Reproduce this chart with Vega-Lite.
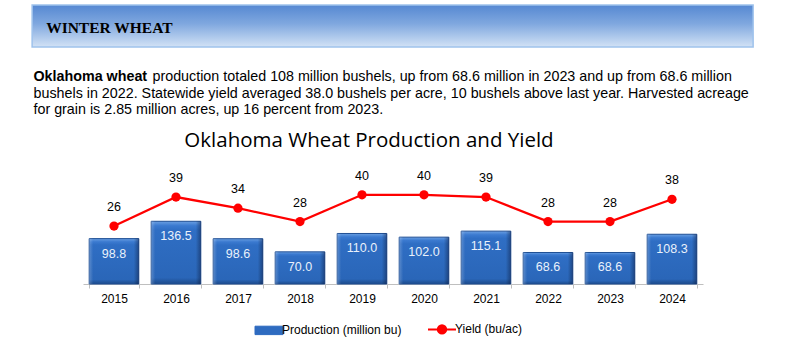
{
  "$schema": "https://vega.github.io/schema/vega-lite/v6.json",
  "background": "white",
  "padding": {"left": 31, "top": 4, "right": 0, "bottom": 0},
  "spacing": 0,
  "center": true,
  "config": {"view": {"stroke": null}, "font": "Liberation Sans", "legend": {"layout": {"bottom": {"anchor": "middle"}}}},
  "vconcat": [
    {
      "width": 721,
      "height": 42,
      "data": {"values": [{"label": "WINTER WHEAT"}]},
      "layer": [
        {
          "mark": {
            "type": "rect",
            "fill": {"gradient": "linear", "x1": 0, "y1": 0, "x2": 0, "y2": 1,
              "stops": [{"offset": 0, "color": "#5588d2"}, {"offset": 0.45, "color": "#80a8df"}, {"offset": 1, "color": "#d2e2f5"}]},
            "stroke": "#9fc2ec",
            "strokeWidth": 1.5
          },
          "encoding": {
            "x": {"datum": 0, "type": "quantitative", "scale": {"domain": [0, 1]}, "axis": null},
            "x2": {"datum": 1},
            "y": {"datum": 0, "type": "quantitative", "scale": {"domain": [0, 1]}, "axis": null},
            "y2": {"datum": 1}
          }
        },
        {
          "mark": {"type": "text", "align": "left", "baseline": "middle", "dx": 14, "dy": 2, "font": "Liberation Serif", "fontWeight": "bold", "fontSize": 15.5, "color": "#000000"},
          "encoding": {
            "x": {"datum": 0, "type": "quantitative"},
            "y": {"datum": 0.5, "type": "quantitative"},
            "text": {"field": "label"}
          }
        }
      ]
    },
    {
      "width": 721,
      "height": 82,
      "layer": [
        {
          "data": {"values": [{"line": 1, "text": "Oklahoma wheat"}]},
          "mark": {"type": "text", "align": "left", "baseline": "middle", "dx": 1, "fontSize": 14.3, "fontWeight": "bold", "color": "#000000"},
          "encoding": {
            "x": {"datum": 0, "type": "quantitative", "scale": {"domain": [0, 1]}, "axis": null},
            "y": {"field": "line", "type": "quantitative", "scale": {"domain": [-0.758, 4.212], "reverse": true, "nice": false, "zero": false}, "axis": null},
            "text": {"field": "text"}
          }
        },
        {
          "data": {"values": [{"line": 1, "text": "production totaled 108 million bushels, up from 68.6 million in 2023 and up from 68.6 million"}]},
          "mark": {"type": "text", "align": "left", "baseline": "middle", "dx": 120, "fontSize": 14.3, "color": "#000000"},
          "encoding": {
            "x": {"datum": 0, "type": "quantitative"},
            "y": {"field": "line", "type": "quantitative"},
            "text": {"field": "text"}
          }
        },
        {
          "data": {"values": [
            {"line": 2, "text": "bushels in 2022. Statewide yield averaged 38.0 bushels per acre, 10 bushels above last year. Harvested acreage"},
            {"line": 3, "text": "for grain is 2.85 million acres, up 16 percent from 2023."}
          ]},
          "mark": {"type": "text", "align": "left", "baseline": "middle", "dx": 1, "fontSize": 14.3, "color": "#000000"},
          "encoding": {
            "x": {"datum": 0, "type": "quantitative"},
            "y": {"field": "line", "type": "quantitative"},
            "text": {"field": "text"}
          }
        }
      ]
    },
    {
      "width": 620,
      "height": 130,
      "title": {"text": "Oklahoma Wheat Production and Yield", "font": "Open Sans", "fontSize": 20.5, "fontWeight": "normal", "color": "#000000", "anchor": "middle", "dx": -24, "offset": 3},
      "data": {"values": [
        {"year": "2015", "production": 98.8, "yield": 26},
        {"year": "2016", "production": 136.5, "yield": 39},
        {"year": "2017", "production": 98.6, "yield": 34},
        {"year": "2018", "production": 70.0, "yield": 28},
        {"year": "2019", "production": 110.0, "yield": 40},
        {"year": "2020", "production": 102.0, "yield": 40},
        {"year": "2021", "production": 115.1, "yield": 39},
        {"year": "2022", "production": 68.6, "yield": 28},
        {"year": "2023", "production": 68.6, "yield": 28},
        {"year": "2024", "production": 108.3, "yield": 38}
      ]},
      "encoding": {
        "x": {
          "field": "year", "type": "ordinal",
          "scale": {"paddingInner": 0.2, "paddingOuter": 0.1},
          "axis": {"title": null, "labelAngle": 0, "labelFontSize": 12, "labelColor": "#000000", "labelFont": "Liberation Sans", "tickBand": "extent", "domainColor": "#bfbfbf", "tickColor": "#bfbfbf", "tickSize": 4, "labelPadding": 5, "grid": false}
        }
      },
      "layer": [
        {
          "encoding": {
            "y": {"field": "production", "type": "quantitative", "scale": {"domain": [0, 283], "nice": false}, "axis": null}
          },
          "layer": [
            {
              "mark": {
                "type": "bar",
                "fill": {"gradient": "linear", "x1": 0, "y1": 0, "x2": 0, "y2": 1,
                  "stops": [{"offset": 0, "color": "#6a9fe2"}, {"offset": 0.07, "color": "#3b7ad0"}, {"offset": 0.14, "color": "#2f6ec4"}, {"offset": 0.9, "color": "#2a66b8"}, {"offset": 1, "color": "#1c4a8a"}]},
                "stroke": "#1f4f94",
                "strokeWidth": 1
              }
            },
            {
              "mark": {
                "type": "bar",
                "fill": {"gradient": "linear", "x1": 0, "y1": 0, "x2": 1, "y2": 0,
                  "stops": [{"offset": 0, "color": "rgba(255,255,255,0.22)"}, {"offset": 0.08, "color": "rgba(255,255,255,0)"}, {"offset": 0.9, "color": "rgba(0,0,0,0)"}, {"offset": 1, "color": "rgba(0,0,30,0.35)"}]},
                "strokeWidth": 0
              }
            },
            {
              "mark": {"type": "text", "baseline": "middle", "dy": 15, "fontSize": 12.5, "color": "#eaf1fb"},
              "encoding": {"text": {"field": "production", "type": "quantitative", "format": ".1f"}}
            }
          ]
        },
        {
          "encoding": {
            "y": {"field": "yield", "type": "quantitative", "scale": {"domain": [0, 58.3], "nice": false}, "axis": null}
          },
          "layer": [
            {
              "mark": {"type": "line", "strokeWidth": 2.3, "point": {"filled": true, "size": 85, "opacity": 1}},
              "encoding": {
                "color": {
                  "datum": "Yield (bu/ac)", "type": "nominal",
                  "scale": {"domain": ["Production (million bu)", "Yield (bu/ac)"], "range": ["#2e6bc0", "#ff0000"]},
                  "legend": {
                    "orient": "bottom", "direction": "horizontal", "title": null,
                    "labelFontSize": 12, "labelFont": "Liberation Sans", "labelColor": "#000000",
                    "symbolSize": 784, "labelOffset": 7, "columnPadding": 22, "offset": 19,
                    "encode": {
                      "symbols": {
                        "update": {
                          "shape": {"signal": "datum.value === 'Yield (bu/ac)' ? 'M-1,0H1M0.3,0A0.3,0.3,0,1,1,-0.3,0A0.3,0.3,0,1,1,0.3,0Z' : 'M-1,-0.3H1V0.3H-1Z'"},
                          "fill": {"signal": "datum.value === 'Yield (bu/ac)' ? '#ff0000' : '#2e6bc0'"},
                          "stroke": {"signal": "datum.value === 'Yield (bu/ac)' ? '#ff0000' : '#1f4f94'"},
                          "strokeWidth": {"signal": "datum.value === 'Yield (bu/ac)' ? 2 : 1"},
                          "opacity": {"value": 1},
                          "fillOpacity": {"value": 1},
                          "strokeOpacity": {"value": 1}
                        }
                      }
                    }
                  }
                }
              }
            },
            {
              "mark": {"type": "text", "baseline": "middle", "dy": -19, "fontSize": 12.5, "color": "#000000"},
              "encoding": {"text": {"field": "yield", "type": "quantitative"}}
            }
          ]
        }
      ],
      "resolve": {"scale": {"y": "independent"}}
    }
  ]
}
